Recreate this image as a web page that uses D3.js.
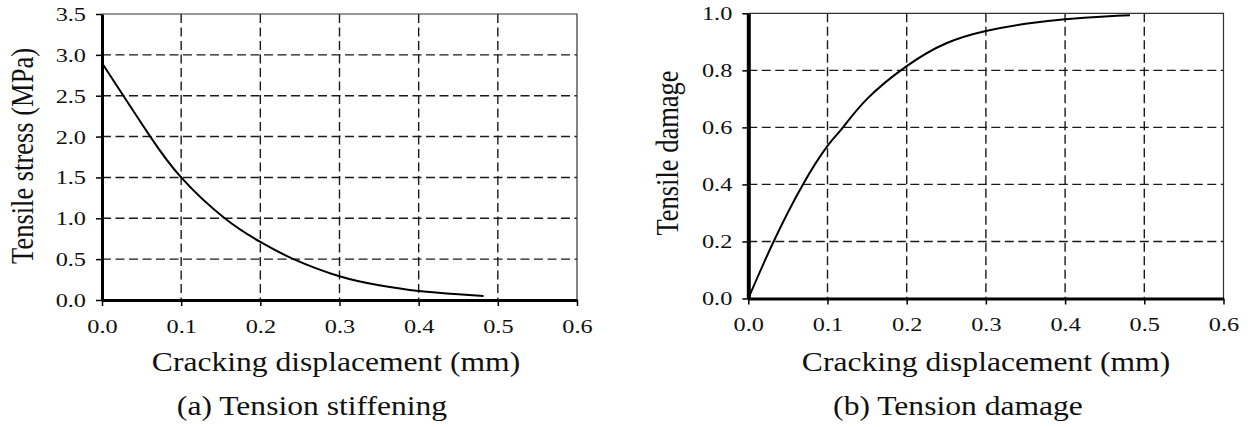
<!DOCTYPE html>
<html>
<head>
<meta charset="utf-8">
<script src="https://cdn.jsdelivr.net/npm/d3@7"></script>
<style>
  html, body { margin: 0; padding: 0; background: #fff; }
  svg { display: block; }
  text { font-family: "Liberation Serif", "Times New Roman", serif; fill: #111; }
</style>
</head>
<body>
<svg id="chart" width="1250" height="427"></svg>
<script>
// Cracking displacement (mm) vs tensile stress (MPa) — tension stiffening
const stiffDisp   = [0, 0.027, 0.061, 0.100, 0.155, 0.200, 0.242, 0.300, 0.350, 0.400, 0.450, 0.482];
const stiffStress = [2.90, 2.50, 2.00, 1.50, 1.00, 0.71, 0.50, 0.29, 0.18, 0.11, 0.07, 0.05];

// Cracking displacement (mm) vs tensile damage — tension damage
const damDisp   = [0, 0.032, 0.069, 0.100, 0.118, 0.150, 0.200, 0.250, 0.300, 0.350, 0.400, 0.450, 0.482];
const damDamage = [0, 0.20, 0.40, 0.535, 0.595, 0.70, 0.815, 0.895, 0.938, 0.963, 0.979, 0.989, 0.993];

// Tick values
const xTicks      = [0, 0.1, 0.2, 0.3, 0.4, 0.5, 0.6];
const stressTicks = [0, 0.5, 1.0, 1.5, 2.0, 2.5, 3.0, 3.5];
const damageTicks = [0, 0.2, 0.4, 0.6, 0.8, 1.0];

// Labels
const xTitle = "Cracking displacement (mm)";
const panels = [
  { xs: stiffDisp, ys: stiffStress, yTicks: stressTicks, yMax: 3.5,
    yTitle: "Tensile stress (MPa)", caption: "(a) Tension stiffening",
    left: 102, right: 577, top: 14, bottom: 300, yAxisW: 3,
    yTitleX: 33, yTitleY: 156, xTitleX: 336, captionX: 312 },
  { xs: damDisp, ys: damDamage, yTicks: damageTicks, yMax: 1.0,
    yTitle: "Tensile damage", caption: "(b) Tension damage",
    left: 748.3, right: 1223.5, top: 13.3, bottom: 298.5, yAxisW: 4,
    yTitleX: 678, yTitleY: 153, xTitleX: 986, captionX: 958 }
];

const SX = 1.17;               // horizontal glyph stretch of the titles
const SXT = 1.28;              // horizontal glyph stretch of the tick labels
const fmt = d3.format(".1f");
const svg = d3.select("#chart");

panels.forEach(p => {
  const x = d3.scaleLinear().domain([0, 0.6]).range([p.left, p.right]);
  const y = d3.scaleLinear().domain([0, p.yMax]).range([p.bottom, p.top]);
  const g = svg.append("g");

  // dashed grid
  g.append("g").selectAll("line").data(xTicks.slice(1, -1)).join("line")
    .attr("x1", d => x(d)).attr("x2", d => x(d))
    .attr("y1", y(p.yMax)).attr("y2", y(0))
    .attr("stroke", "#1a1a1a").attr("stroke-width", 1.4).attr("stroke-dasharray", "9,4.5");
  g.append("g").selectAll("line").data(p.yTicks.slice(1, -1)).join("line")
    .attr("x1", x(0)).attr("x2", x(0.6))
    .attr("y1", d => y(d)).attr("y2", d => y(d))
    .attr("stroke", "#1a1a1a").attr("stroke-width", 1.4).attr("stroke-dasharray", "9,4.5");

  // thin frame on top and right
  g.append("path")
    .attr("d", `M${x(0)},${y(p.yMax)}H${x(0.6)}V${y(0)}`)
    .attr("fill", "none").attr("stroke", "#333").attr("stroke-width", 1.2);

  // axes
  const xa = g.append("g").attr("transform", `translate(0,${y(0)})`)
    .call(d3.axisBottom(x).tickValues(xTicks).tickFormat(fmt).tickSize(6).tickSizeOuter(0));
  const ya = g.append("g").attr("transform", `translate(${x(0)},0)`)
    .call(d3.axisLeft(y).tickValues(p.yTicks).tickFormat(fmt).tickSize(6).tickSizeOuter(0));

  xa.select(".domain").attr("stroke", "#000").attr("stroke-width", 3);
  ya.select(".domain").attr("stroke", "#000").attr("stroke-width", p.yAxisW);
  xa.selectAll(".tick line").attr("stroke", "#000").attr("stroke-width", 1.5);
  ya.selectAll(".tick line").attr("stroke", "#000").attr("stroke-width", 1.5);

  xa.selectAll(".tick text")
    .attr("y", 33).attr("dy", 0)
    .attr("font-size", 19).attr("fill", "#111")
    .attr("transform", `scale(${SXT},1)`);
  ya.selectAll(".tick text")
    .attr("x", -16 / SXT).attr("dy", "0.34em")
    .attr("font-size", 19).attr("fill", "#111")
    .attr("transform", `scale(${SXT},1)`);

  // curve
  const pts = p.xs.map((v, i) => [v, p.ys[i]]);
  g.append("path").datum(pts)
    .attr("fill", "none").attr("stroke", "#000").attr("stroke-width", 2)
    .attr("d", d3.line().x(d => x(d[0])).y(d => y(d[1])).curve(d3.curveNatural));

  // titles
  g.append("text")
    .attr("transform", `translate(${p.xTitleX},371) scale(${SX},1)`)
    .attr("text-anchor", "middle").attr("font-size", 27).text(xTitle);
  g.append("text")
    .attr("transform", `translate(${p.captionX},415) scale(${SX},1)`)
    .attr("text-anchor", "middle").attr("font-size", 27).text(p.caption);
  g.append("text")
    .attr("transform", `translate(${p.yTitleX},${p.yTitleY}) scale(${SX},1) rotate(-90)`)
    .attr("text-anchor", "middle").attr("font-size", 26.5).text(p.yTitle);
});
</script>
</body>
</html>
